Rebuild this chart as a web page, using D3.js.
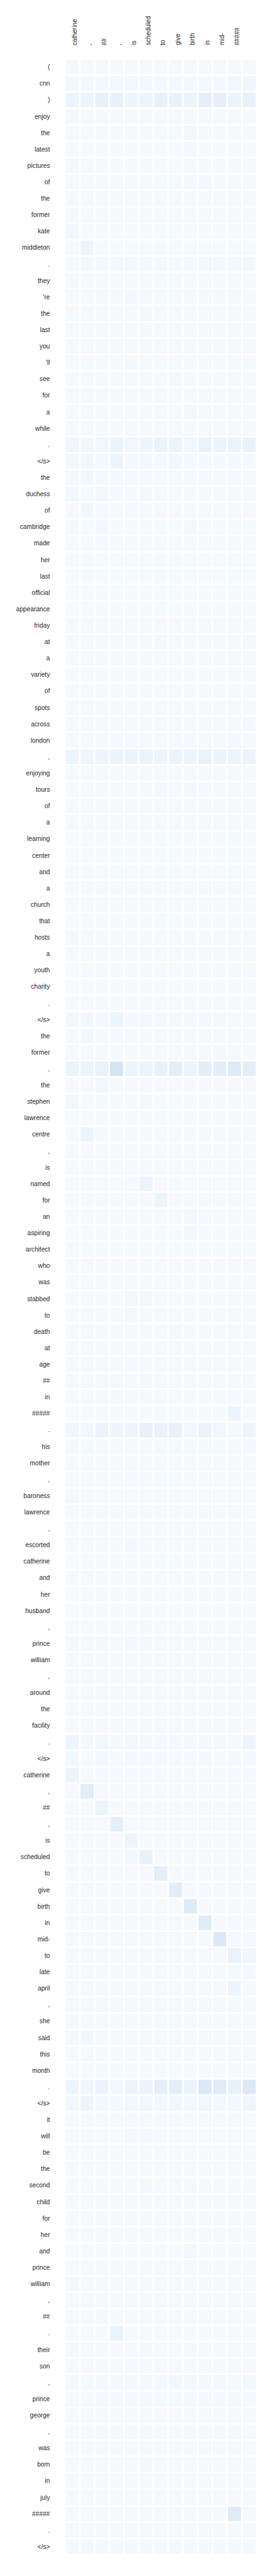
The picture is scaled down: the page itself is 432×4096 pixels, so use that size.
<!DOCTYPE html>
<html>
<head>
<meta charset="utf-8">
<script src="https://cdn.jsdelivr.net/npm/d3@7"></script>
<style>
  html, body { margin: 0; padding: 0; background: #ffffff; }
  svg { display: block; }
</style>
</head>
<body>
<script>
// ---- data ----
const colLabels = ["catherine", ",", "##", ",", "is", "scheduled", "to", "give", "birth", "in", "mid-", "#####", ""];

const rowLabels = ["(", "cnn", ")", "enjoy", "the", "latest", "pictures", "of", "the", "former", "kate", "middleton", ".",
  "they", "'re", "the", "last", "you", "'ll", "see", "for", "a", "while", ".", "</s>",
  "the", "duchess", "of", "cambridge", "made", "her", "last", "official", "appearance", "friday", "at", "a", "variety", "of", "spots", "across", "london", ",",
  "enjoying", "tours", "of", "a", "learning", "center", "and", "a", "church", "that", "hosts", "a", "youth", "charity", ".", "</s>",
  "the", "former", ",", "the", "stephen", "lawrence", "centre", ",", "is", "named", "for", "an", "aspiring", "architect", "who", "was", "stabbed", "to", "death", "at", "age", "##", "in", "#####", ".",
  "his", "mother", ",", "baroness", "lawrence", ",", "escorted", "catherine", "and", "her", "husband", ",", "prince", "william", ",", "around", "the", "facility", ".", "</s>",
  "catherine", ",", "##", ",", "is", "scheduled", "to", "give", "birth", "in", "mid-", "to", "late", "april", ",", "she", "said", "this", "month", ".", "</s>",
  "it", "will", "be", "the", "second", "child", "for", "her", "and", "prince", "william", ",", "##", ".", "their", "son", ",", "prince", "george", ",", "was", "born", "in", "july", "#####", ".", "</s>"];

// attention weights, per mille (rows = source tokens, columns = target tokens)
const values = [
  [20,15,15,15,15,15,15,15,15,15,15,15,15],
  [30,20,25,30,30,30,25,20,20,25,20,40,40],
  [50,50,80,80,50,50,80,70,60,90,90,60,80],
  [20,15,15,15,15,15,15,15,15,15,15,15,15],
  [15,15,15,15,15,15,15,15,20,15,15,15,15],
  [12,10,10,10,10,10,10,10,20,10,10,10,10],
  [20,12,10,10,10,10,10,10,12,10,10,10,10],
  [15,15,15,15,15,15,15,15,20,20,15,15,15],
  [12,12,12,12,12,12,12,12,12,12,12,12,12],
  [25,12,12,12,12,12,12,12,12,12,12,12,12],
  [35,10,10,10,10,10,10,10,10,10,10,10,10],
  [15,50,10,10,10,10,10,10,10,10,10,10,10],
  [20,20,20,20,20,20,20,20,20,20,20,20,20],
  [25,15,15,15,15,15,15,15,15,15,15,15,15],
  [15,15,15,15,20,15,15,15,15,15,15,15,15],
  [15,15,15,15,15,25,15,15,15,15,15,15,15],
  [15,15,15,15,15,20,15,15,15,15,15,15,15],
  [12,12,12,12,12,12,12,12,12,12,12,12,12],
  [15,15,15,15,20,15,15,15,15,15,15,15,15],
  [12,12,12,12,12,12,12,25,12,12,12,12,12],
  [15,15,15,15,15,15,15,15,15,15,15,15,15],
  [12,12,12,12,12,12,12,12,20,12,12,12,12],
  [12,12,12,12,12,12,12,12,12,12,12,12,12],
  [40,30,40,60,40,45,60,60,40,70,60,55,70],
  [30,35,25,50,25,30,25,35,25,25,25,25,20],
  [20,35,15,20,15,15,15,15,15,15,15,15,15],
  [35,15,30,12,12,20,12,12,12,12,12,12,12],
  [12,30,12,12,12,12,12,12,12,12,12,12,12],
  [25,10,20,10,10,10,10,10,15,10,10,10,10],
  [12,12,12,12,12,12,12,12,12,12,12,12,12],
  [10,10,10,10,10,10,10,10,10,10,10,10,10],
  [10,10,10,10,10,10,10,10,10,10,10,10,10],
  [10,10,10,10,10,10,10,10,10,10,10,10,10],
  [10,10,10,10,10,10,10,10,10,10,10,10,10],
  [12,12,12,12,12,12,12,12,12,12,12,12,12],
  [12,12,12,12,12,12,20,12,12,12,12,12,25],
  [12,12,12,12,12,12,12,12,12,12,12,12,12],
  [12,12,12,12,12,12,12,12,12,12,12,12,12],
  [12,12,12,12,12,12,12,12,12,12,12,12,12],
  [12,12,12,12,12,12,12,12,12,12,12,12,12],
  [12,12,12,12,12,12,12,12,12,12,12,12,20],
  [12,12,12,12,12,12,12,12,12,12,12,25,12],
  [50,45,45,60,55,60,50,60,50,70,60,50,60],
  [12,12,12,12,12,12,12,12,12,12,12,12,12],
  [12,12,12,12,12,12,20,12,25,12,12,12,12],
  [12,12,12,12,12,12,12,12,12,12,12,12,12],
  [12,12,12,12,12,12,12,12,12,12,12,12,12],
  [10,10,10,10,10,10,10,10,10,10,10,10,10],
  [10,10,10,10,10,10,10,10,10,10,10,10,10],
  [10,10,10,10,10,10,10,10,10,10,10,10,10],
  [12,12,12,12,12,12,12,12,12,12,12,12,12],
  [12,12,12,12,12,12,12,12,12,12,12,12,12],
  [10,10,10,10,10,10,10,10,10,10,10,10,10],
  [20,12,12,12,12,12,12,12,12,12,12,12,12],
  [12,12,12,12,12,12,12,12,12,12,12,12,12],
  [10,10,10,10,10,10,10,10,10,10,10,10,10],
  [10,10,10,10,10,10,10,10,10,10,10,10,10],
  [12,12,12,12,12,12,12,12,12,12,12,12,12],
  [30,35,20,50,20,30,20,25,25,20,25,15,15],
  [12,25,12,12,12,12,12,12,12,12,12,12,12],
  [12,12,12,12,12,12,12,12,12,12,20,12,12],
  [60,50,70,180,50,50,80,100,50,100,100,130,100],
  [12,12,35,12,12,12,12,12,12,12,12,12,12],
  [35,10,10,15,10,20,10,10,10,10,10,10,10],
  [10,10,10,10,10,10,10,10,10,10,10,10,10],
  [12,50,12,12,12,12,12,12,12,12,12,12,12],
  [12,12,12,12,12,12,12,12,12,12,12,12,12],
  [12,12,12,12,15,12,12,12,12,12,12,12,12],
  [12,12,12,12,15,60,12,15,12,12,12,12,12],
  [12,12,12,12,12,12,50,12,12,12,12,12,12],
  [12,12,12,12,12,12,12,12,35,12,12,12,12],
  [10,10,10,10,10,10,10,10,35,10,10,10,10],
  [15,10,10,10,10,10,10,10,10,10,10,10,10],
  [12,12,12,12,12,12,12,12,12,12,12,12,12],
  [12,12,12,12,12,12,12,12,12,12,12,12,12],
  [12,12,12,12,30,30,12,12,12,12,12,12,12],
  [12,12,12,15,20,12,12,12,12,12,12,12,12],
  [12,12,12,12,12,12,12,20,12,12,12,12,12],
  [12,12,12,12,12,12,12,12,12,12,12,12,12],
  [12,12,12,12,12,12,12,12,12,12,15,12,12],
  [12,12,15,12,12,20,12,12,12,12,15,12,20],
  [12,12,12,20,12,15,12,12,12,12,12,12,15],
  [10,10,10,10,10,10,10,10,10,10,10,50,10],
  [40,35,60,45,45,80,70,80,35,60,40,15,50],
  [20,15,15,15,15,15,15,15,15,15,15,15,25],
  [12,12,12,12,15,12,12,12,12,12,12,12,12],
  [15,15,15,15,15,15,15,15,15,15,15,15,15],
  [20,12,12,12,12,12,12,12,12,12,12,12,12],
  [12,12,12,12,12,12,12,12,12,12,12,12,12],
  [12,12,12,12,12,12,12,12,12,12,12,12,12],
  [12,12,12,12,20,12,12,12,12,12,12,12,12],
  [10,10,10,10,10,10,10,10,10,10,10,10,10],
  [12,12,12,12,12,12,12,12,12,12,12,12,12],
  [10,10,10,10,10,10,10,10,10,10,10,10,10],
  [10,10,10,10,10,10,10,10,10,10,10,10,10],
  [15,15,15,15,15,20,15,15,15,15,15,15,15],
  [20,15,20,15,25,20,15,15,15,15,15,15,15],
  [12,12,12,12,12,12,12,12,12,12,12,12,12],
  [15,15,15,15,15,15,15,15,15,15,15,15,15],
  [12,12,12,12,12,12,12,12,12,12,12,12,12],
  [12,12,12,12,12,12,12,12,12,12,12,12,12],
  [12,12,12,12,12,12,12,12,12,12,12,12,12],
  [50,20,40,25,30,25,20,20,20,20,20,12,50],
  [35,15,30,15,20,20,20,15,15,20,15,20,25],
  [60,12,12,12,12,12,12,12,12,12,12,12,12],
  [12,110,12,12,12,12,12,12,12,12,12,12,12],
  [12,12,60,12,12,12,12,12,12,12,12,12,12],
  [12,12,12,90,12,12,12,12,12,12,12,12,12],
  [12,12,12,12,50,12,12,12,12,12,12,12,12],
  [12,12,12,12,20,80,12,12,12,12,12,12,12],
  [12,12,12,12,12,12,100,12,12,12,12,12,12],
  [12,12,12,12,12,12,12,110,12,12,12,12,12],
  [12,12,12,12,12,12,12,12,130,12,12,12,12],
  [12,12,12,12,12,12,12,12,12,120,12,12,12],
  [12,12,12,12,12,12,12,12,12,12,140,12,12],
  [12,12,12,12,12,12,12,12,12,12,12,70,40],
  [15,15,15,15,15,15,15,15,15,15,15,15,20],
  [12,12,12,12,12,12,12,12,12,12,12,50,12],
  [15,15,15,15,15,15,15,15,15,15,15,15,15],
  [20,15,15,15,15,15,15,15,15,15,15,15,15],
  [20,30,15,15,15,15,15,15,15,15,15,15,15],
  [12,12,12,12,12,12,12,12,12,12,12,12,12],
  [10,10,10,10,10,10,10,10,10,10,10,10,10],
  [50,40,60,35,50,60,90,100,60,140,120,80,140],
  [30,50,35,25,35,40,35,35,35,40,35,30,45],
  [12,12,12,12,12,12,12,12,12,12,12,12,12],
  [12,12,12,12,20,20,12,12,12,12,12,12,12],
  [12,12,12,12,12,12,12,15,12,12,12,12,12],
  [12,12,12,12,12,12,12,12,12,12,12,12,12],
  [12,12,12,12,12,20,12,15,15,12,12,12,12],
  [12,12,12,12,12,12,15,12,12,12,12,12,12],
  [12,12,12,12,12,12,12,12,12,12,12,12,12],
  [12,12,12,12,12,12,12,12,12,12,12,12,12],
  [10,10,10,10,10,10,10,10,20,10,10,10,10],
  [15,15,15,15,15,15,15,15,15,15,15,15,15],
  [20,15,15,15,15,15,15,15,15,15,15,15,15],
  [15,15,15,15,15,15,15,15,15,15,15,15,15],
  [15,15,20,15,15,15,15,15,15,15,15,15,15],
  [12,12,12,70,12,12,12,12,12,12,12,12,12],
  [20,12,12,12,12,20,12,12,15,12,12,12,12],
  [12,12,12,12,12,12,12,12,12,12,12,12,12],
  [20,15,20,20,20,25,25,35,25,25,25,15,35],
  [15,15,15,15,15,15,15,15,15,15,15,15,15],
  [12,12,12,12,12,12,12,12,12,12,12,12,12],
  [15,15,15,15,15,15,15,15,15,15,15,15,15],
  [12,12,12,12,12,12,12,12,12,12,12,12,12],
  [12,12,12,12,12,20,12,12,12,12,12,12,12],
  [12,12,12,12,12,12,12,12,12,12,12,12,12],
  [12,12,12,12,12,12,12,12,12,12,12,12,12],
  [12,12,12,12,12,12,12,12,12,12,12,120,12],
  [15,15,15,15,15,15,15,15,15,15,15,12,15],
  [20,20,20,20,20,20,20,20,20,20,20,20,20]
];

// ---- drawing (reference coordinates, scaled by viewBox) ----
const W = 521, H = 4944;
const svg = d3.select("body").append("svg")
  .attr("width", 432).attr("height", 4096)
  .attr("viewBox", `0 0 ${W} ${H}`);

const rowIdx = rowLabels.map((d, i) => i);
const colIdx = colLabels.map((d, i) => i);

const x = d3.scaleBand().domain(colIdx).range([126, 490]).paddingInner(0.115).paddingOuter(0);
const y = d3.scaleBand().domain(rowIdx).range([115, 4901.7]).paddingInner(0.12).paddingOuter(0);
const color = d3.scaleSequential(d3.interpolateBlues).domain([0, 1000]);

const cells = [];
values.forEach((row, i) => row.forEach((v, j) => cells.push({ i, j, v })));

svg.append("g").selectAll("rect").data(cells).join("rect")
  .attr("x", d => x(d.j))
  .attr("y", d => y(d.i))
  .attr("width", x.bandwidth())
  .attr("height", y.bandwidth())
  .attr("fill", d => color(d.v));

const font = "'Liberation Sans', Arial, sans-serif";
const fs = 12.3;

// row labels
svg.append("g").selectAll("text").data(rowIdx).join("text")
  .attr("x", 95.5)
  .attr("y", i => y(i) + y.bandwidth() / 2)
  .attr("dy", "0.34em")
  .attr("text-anchor", "end")
  .attr("font-family", font)
  .attr("font-size", fs)
  .attr("fill", "#262626")
  .text(i => rowLabels[i]);

// column labels (rotated)
svg.append("g").selectAll("text").data(colIdx).join("text")
  .attr("transform", j => `translate(${x(j) + x.bandwidth() / 2},87) rotate(-90)`)
  .attr("dy", "0.7em")
  .attr("text-anchor", "start")
  .attr("font-family", font)
  .attr("font-size", fs)
  .attr("fill", "#262626")
  .text(j => colLabels[j]);
</script>
</body>
</html>
